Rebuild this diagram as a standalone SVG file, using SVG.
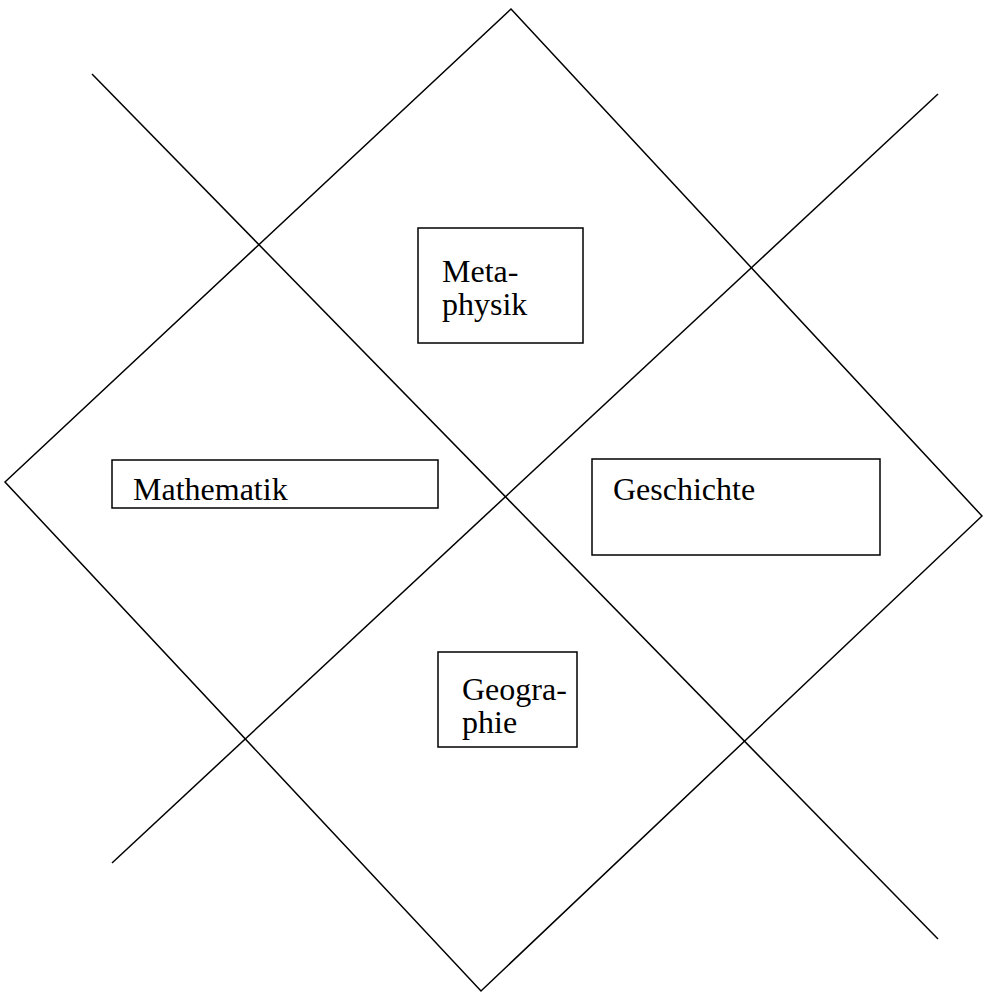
<svg xmlns="http://www.w3.org/2000/svg" width="983" height="994" viewBox="0 0 983 994">
  <style>
    .ln { fill: none; stroke: #000; stroke-width: 1.5; }
    .box { fill: #fff; stroke: #000; stroke-width: 1.5; }
    .lbl { font-family: "Liberation Serif", "Times New Roman", serif; font-size: 32px; fill: #000; }
  </style>
  <rect width="983" height="994" fill="#fff"/>
  <g id="connectors">
    <polygon class="ln" points="511,9 982,516 481,991 5,482"/>
    <line class="ln" x1="92" y1="74" x2="938" y2="939"/>
    <line class="ln" x1="938" y1="94" x2="112" y2="863"/>
  </g>
  <g id="metaphysik">
    <rect class="box" x="418" y="228" width="165" height="115"/>
    <text class="lbl" x="442" y="282">Meta-</text>
    <text class="lbl" x="442" y="315">physik</text>
  </g>
  <g id="mathematik">
    <rect class="box" x="112" y="460" width="326" height="48"/>
    <text class="lbl" x="133" y="500">Mathematik</text>
  </g>
  <g id="geschichte">
    <rect class="box" x="592" y="459" width="288" height="96"/>
    <text class="lbl" x="613" y="500">Geschichte</text>
  </g>
  <g id="geographie">
    <rect class="box" x="438" y="652" width="139" height="95"/>
    <text class="lbl" x="462" y="700">Geogra-</text>
    <text class="lbl" x="462" y="733">phie</text>
  </g>
</svg>
